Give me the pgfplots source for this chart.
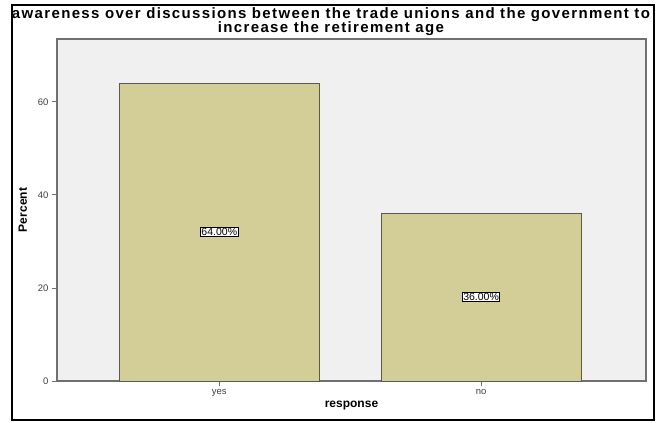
\documentclass[border=0pt]{standalone}
\usepackage{pgfplots}
\pgfplotsset{compat=1.18}
\usepackage{fontspec}
\setmainfont{Liberation Sans}
\newfontfamily\titlefont[LetterSpace=9]{Liberation Sans}
\definecolor{barfill}{HTML}{D3CD97}
\definecolor{plotbg}{HTML}{F0F0F0}
\definecolor{axgray}{HTML}{707070}
\begin{document}
\begin{tikzpicture}[x=1pt,y=1pt]
\path[use as bounding box] (0,0) rectangle (662,423);
\draw[line width=1.6pt] (12,3) rectangle (654,418);
\node[anchor=base,font=\titlefont\fontsize{15}{15}\selectfont\bfseries, inner sep=0pt] at (331,404.5) {awareness over discussions between the trade unions and the government to};
\node[anchor=base,font=\titlefont\fontsize{15}{15}\selectfont\bfseries, inner sep=0pt] at (331,390.5) {increase the retirement age};
\begin{axis}[
  at={(57pt,42pt)}, anchor=south west,
  scale only axis, width=589pt, height=342pt,
  xmin=-0.62, xmax=1.63, ymin=0, ymax=73.5,
  axis background/.style={fill=plotbg},
  axis line style={axgray, line width=1.2pt},
  xtick={0,1}, xticklabels={yes,no},
  ytick={0,20,40,60},
  tick style={axgray, line width=0.8pt},
  tick align=outside, major tick length=5pt,
  xtick pos=bottom, ytick pos=left,
  ticklabel style={font=\fontsize{9.5}{10}\selectfont, text=black!75},
  /pgf/number format/assume math mode=true,
  xlabel={\bfseries response}, ylabel={\bfseries Percent},
  label style={font=\fontsize{12}{12}\selectfont},
  xlabel style={yshift=2pt},
  ylabel style={yshift=4pt},
  ybar, bar width=200pt,
  clip=false,
]
\addplot[fill=barfill, draw=black!65, line width=0.8pt] coordinates {(0,64) (1,36)};
\addplot[draw=none, only marks, mark=none,
  nodes near coords, point meta=explicit symbolic,
  every node near coord/.style={anchor=center, fill=white, draw=black, line width=0.6pt, inner sep=0.8pt, font=\fontsize{10.5}{11}\selectfont}]
  coordinates {(0,32)[64.00\%] (1,18)[36.00\%]};
\end{axis}
\end{tikzpicture}
\end{document}
